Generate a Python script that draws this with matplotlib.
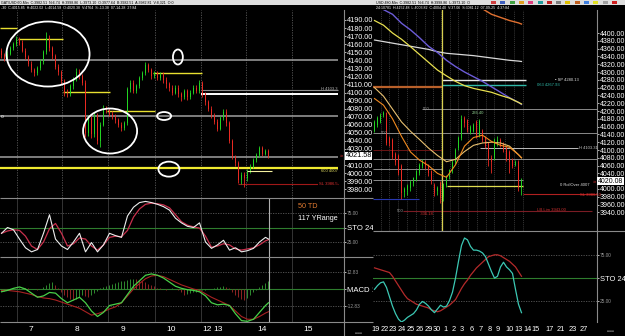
import matplotlib
matplotlib.use("Agg")
import matplotlib.pyplot as plt
from matplotlib.patches import Ellipse, Rectangle

plt.rcParams["font.family"] = ["Liberation Sans", "DejaVu Sans"]

W, H = 625, 336
GREEN = "#22d422"
RED = "#ea2a22"
GRID = "#5a5a5a"
LEVEL = "#a0a0a0"
SEP = "#8a8a8a"

# ---------------- left chart: 60-min candles ----------------
l_open = [4152, 4146, 4142, 4148, 4155, 4160, 4166, 4162, 4152, 4144,
          4136, 4128, 4124, 4130, 4138, 4150, 4168, 4155, 4145, 4132,
          4125, 4114, 4100, 4098, 4108, 4116, 4126, 4120, 4112, 4050,
          4068, 4048, 4072, 4040, 4060, 4080, 4078, 4074, 4070, 4066,
          4060, 4056, 4062, 4104, 4112, 4102, 4108, 4118, 4124, 4134,
          4128, 4120, 4124, 4118, 4122, 4116, 4110, 4106, 4100, 4106,
          4098, 4094, 4102, 4094, 4100, 4106, 4102, 4112, 4098, 4088,
          4080, 4072, 4064, 4055, 4068, 4076, 4062, 4040, 4020, 4012,
          3992, 3998, 3994, 4002, 4008, 4016, 4022, 4031, 4024, 4027]
l_close = [4146, 4142, 4148, 4155, 4160, 4166, 4162, 4152, 4144, 4136,
           4128, 4124, 4130, 4138, 4150, 4168, 4155, 4145, 4132, 4125,
           4114, 4100, 4098, 4108, 4116, 4126, 4120, 4112, 4050, 4068,
           4048, 4072, 4040, 4060, 4080, 4078, 4074, 4070, 4066, 4060,
           4056, 4062, 4104, 4112, 4102, 4108, 4118, 4124, 4134, 4128,
           4120, 4124, 4118, 4122, 4116, 4110, 4106, 4100, 4106, 4098,
           4094, 4102, 4094, 4100, 4106, 4102, 4112, 4098, 4088, 4080,
           4072, 4064, 4055, 4068, 4076, 4062, 4040, 4020, 4012, 3992,
           3998, 3994, 4002, 4008, 4016, 4022, 4031, 4024, 4027, 4021.58]
l_high = [4155, 4149, 4151, 4158, 4163, 4170, 4169, 4165, 4155, 4147,
          4139, 4131, 4133, 4141, 4153, 4175, 4171, 4158, 4148, 4135,
          4128, 4117, 4104, 4111, 4119, 4130, 4129, 4123, 4115, 4072,
          4071, 4076, 4075, 4063, 4084, 4083, 4081, 4077, 4073, 4069,
          4063, 4065, 4107, 4116, 4115, 4111, 4121, 4127, 4138, 4137,
          4131, 4127, 4127, 4125, 4125, 4119, 4113, 4109, 4109, 4109,
          4101, 4105, 4105, 4103, 4109, 4109, 4115, 4114, 4101, 4091,
          4083, 4075, 4067, 4071, 4079, 4079, 4065, 4043, 4023, 4015,
          4001, 4001, 4005, 4011, 4019, 4025, 4034, 4034, 4030, 4030]
l_low = [4143, 4139, 4140, 4146, 4153, 4158, 4159, 4150, 4141, 4133,
         4125, 4121, 4122, 4128, 4136, 4148, 4152, 4142, 4129, 4122,
         4110, 4096, 4095, 4096, 4105, 4114, 4117, 4109, 4045, 4046,
         4044, 4045, 4036, 4032, 4058, 4075, 4071, 4067, 4062, 4057,
         4052, 4054, 4060, 4101, 4099, 4100, 4106, 4116, 4122, 4125,
         4117, 4118, 4115, 4116, 4112, 4106, 4102, 4097, 4098, 4095,
         4090, 4092, 4091, 4092, 4098, 4099, 4100, 4095, 4085, 4077,
         4069, 4061, 4052, 4053, 4066, 4059, 4037, 4017, 4009, 3988,
         3986, 3983, 3990, 4000, 4006, 4014, 4020, 4021, 4022, 4019]

l_day_labels = ["7", "8", "9", "10", "12", "13", "14", "15"]
l_day_pos = [9.8, 25.2, 40.5, 56.5, 68.5, 72.2, 86.8, 102.2]
l_day_sep = [5.2, 20.2, 35.5, 51.2, 66.5, 81.5, 96.8]
l_price_ticks = [4190, 4180, 4170, 4160, 4150, 4140, 4130, 4120, 4110, 4100, 4090, 4080,
                 4070, 4060, 4050, 4040, 4030, 4010, 4000, 3990, 3980]

# horizontal levels drawn on the left chart
l_gray_lv = [4140.4, 4070.9, 4020.0]
l_yellow_lv = [4180.1, 4166.4, 4100.7, 4077.1, 4124.2]
l_yellow_span = [(-0.5, 5.2), (5.5, 20.5), (20.5, 36.2), (35.2, 51.2), (50.5, 66.8)]
l_entry = 4006.4
l_high_lv = 4103.2
l_white_lv = 4098.2
l_roll_lv = 4002.7
l_stop = 3986.5

# oscillators (left): sampled every two bars
l_osc_idx = [0, 2, 4, 6, 8, 10, 12, 14, 16, 18, 20, 22, 24, 26, 28, 30, 32, 34, 36, 38,
             40, 42, 44, 46, 48, 50, 52, 54, 56, 58, 60, 62, 64, 66, 68, 70, 72, 74, 76, 78,
             80, 82, 84, 86, 88, 89]
l_sto_k = [40, 50, 46, 30, 15, 8, 12, 40, 72, 30, 18, 12, 25, 40, 8, 24, 8, 20, 40, 36,
           33, 70, 85, 93, 95, 93, 90, 86, 80, 66, 58, 52, 50, 58, 25, 14, 20, 28, 11, 15,
           8, 10, 14, 25, 33, 30]
l_sto_d = [40, 44, 46, 45, 35, 18, 12, 25, 48, 57, 40, 18, 22, 32, 30, 18, 11, 20, 33, 35,
           34, 45, 68, 82, 90, 92, 91, 89, 84, 72, 60, 54, 51, 49, 35, 16, 18, 22, 20, 13,
           11, 13, 15, 20, 27, 29]
l_macd = [-2, -1, 0.5, 1.5, 0, -3, -6, -5, -2.5, -3, -7, -10, -8, -6, -10, -16, -20, -17, -12, -11,
          -10, -4, 2, 6, 10, 11, 10, 8, 5, 2, 0.5, -0.5, -1, -2, -5, -10, -11.5, -11, -12, -18,
          -23, -23.5, -22, -17, -12, -10]
l_signal = [-1, -1, -1.5, -2, -3, -4, -5.5, -6.5, -7, -8, -9.5, -11, -12.5, -14, -16.5, -19, -18,
            -16.5, -14.5, -13, -10, -5, 0, 4, 7.5, 9.5, 10, 9, 7, 5, 3, 1.5, 0, -1, -3.5, -6, -8,
            -10, -12, -16, -20, -22, -22, -20, -17.5, -16.5]
l_hist = [-1.5, -1.2, -0.9, -0.6, -0.3, 0.2, 0.5, 0.8, 0.6, 0.4,
          0.2, -0.2, -0.5, 0.3, 1.5, 3, 4.5, 5, 3, 0.5,
          -2, -4, -6, -7.5, -8, -7, -5.5, -4, -5, -6,
          -4.5, -3, -1.5, 0.5, 1.5, 2.5, 3, 3.5, 4.5, 5,
          5.5, 6, 6.5, 7, 7.5, 7, 6.5, 6, 5, 4,
          3, 2, 1, 0.5, -0.3, -0.6, 0.3, 0.5, 0.2, -1,
          -2.5, -4, -3.5, -3, -2.5, -2, -1.5, -1, -0.5, -0.3,
          0.3, 0.8, 1.2, 1.8, 2.2, 1.5, 0.5, -2, -4, -6,
          -7.5, -8, -6.5, -4.5, -2.5, -0.5, 1.5, 3, 4.5, 6]

# ---------------- right chart: 480-min candles ----------------
r_open = [4150, 4165, 4172, 4190, 4194, 4130, 4125, 4090, 4085, 4060,
          3992, 3998, 4003, 4015, 4025, 4040, 4060, 4068, 4060, 4045,
          4010, 3995, 4015, 3980, 4010, 4030, 4045, 4070, 4105, 4130,
          4181, 4176, 4145, 4150, 4172, 4138, 4150, 4130, 4117, 4080,
          4079, 4115, 4125, 4115, 4105, 4095, 4075, 4062, 4070, 4003]
r_close = [4172, 4182, 4190, 4194, 4117, 4117, 4083, 4070, 4040, 3990,
           4000, 4008, 4018, 4028, 4045, 4062, 4070, 4058, 4040, 4020,
           3990, 4003, 3978, 4012, 4030, 4048, 4070, 4100, 4130, 4180,
           4168, 4151, 4160, 4165, 4138, 4175, 4125, 4110, 4080, 4070,
           4126, 4125, 4112, 4100, 4078, 4070, 4060, 4070, 4003, 4020.08]
r_high = [4176, 4186, 4195, 4199, 4198, 4135, 4130, 4095, 4090, 4065,
          4006, 4012, 4022, 4032, 4050, 4066, 4076, 4074, 4064, 4050,
          4015, 4008, 4020, 4016, 4035, 4052, 4075, 4105, 4135, 4190,
          4186, 4180, 4165, 4170, 4176, 4180, 4155, 4135, 4120, 4088,
          4130, 4135, 4130, 4120, 4110, 4100, 4080, 4075, 4074, 4027]
r_low = [4145, 4160, 4168, 4185, 4112, 4110, 4078, 4062, 4035, 3975,
         3980, 3985, 3995, 4008, 4020, 4035, 4055, 4052, 4034, 4012,
         3982, 3985, 3965, 3970, 4005, 4025, 4040, 4065, 4100, 4125,
         4160, 4145, 4140, 4145, 4132, 4133, 4120, 4105, 4060, 4040,
         4075, 4110, 4108, 4095, 4072, 4040, 4055, 4058, 3995, 3985]

r_ma_idx = [0, 3, 6, 9, 12, 15, 18, 21, 24, 27, 30, 33, 36, 39, 42, 45, 48, 49]
r_ma_fast = [4232, 4215, 4180, 4135, 4095, 4074, 4060, 4040, 4030, 4062, 4110, 4132, 4138, 4122,
             4112, 4107, 4088, 4080]
r_ma_mid = [4260, 4238, 4205, 4172, 4148, 4127, 4105, 4086, 4070, 4076, 4096, 4112, 4118, 4120,
            4118, 4110, 4088, 4080]
r_ma_long = [4432, 4420, 4400, 4384, 4365, 4345, 4325, 4305, 4290, 4276, 4265, 4258, 4253, 4248,
             4240, 4233, 4222, 4218]
r_ma_blue = [4470, 4460, 4448, 4425, 4408, 4388, 4366, 4350, 4330, 4314, 4300, 4288, 4276, 4262,
             4248, 4234, 4222, 4217]
r_ma_white = [4382, 4378, 4374, 4370, 4366, 4362, 4358, 4352, 4348, 4346, 4344, 4342, 4339, 4336,
              4333, 4330, 4328, 4327]
r_ma_top_idx = [36, 39, 42, 45, 48, 49]
r_ma_top = [4462, 4448, 4440, 4432, 4426, 4423]

r_sto_k = [38, 42, 45, 46, 40, 30, 20, 12, 6, 3, 5, 8, 10, 12, 16, 22, 25, 23, 20, 16,
           13, 17, 21, 19, 20, 26, 35, 50, 68, 85, 93, 91, 84, 80, 80, 79, 77, 73, 65, 57,
           50, 52, 62, 67, 62, 59, 55, 38, 22, 13]
r_sto_d = [61, 60, 59, 58, 57, 56, 52, 47, 42, 37, 32, 28, 26, 24, 22, 21, 20, 19, 18, 16,
           15, 14, 15, 17, 19, 21, 24, 27, 33, 39, 44, 48, 53, 57, 61, 64, 67, 70, 73, 74,
           75, 75, 74, 72, 70, 68, 65, 62, 57, 52]

r_day_labels = ["19", "22", "23", "24", "25", "26", "29", "30", "1", "2", "3", "6", "7", "8",
                "9", "10", "13", "14", "15", "17", "21", "23", "27"]
r_day_pos = [0.5, 3.5, 6.2, 9.2, 12.2, 15.2, 18.2, 20.8, 23.5, 26.5, 29.2, 32.5, 35.5, 38.5,
             41.2, 44.9, 47.9, 50.9, 53.6, 58.2, 62.2, 66.2, 69.8]
r_price_ticks = [4400, 4380, 4360, 4340, 4320, 4300, 4280, 4260, 4240, 4220, 4200, 4180, 4160,
                 4140, 4120, 4100, 4080, 4060, 4040, 4000, 3980, 3960, 3940]
r_cursor = 22.5

r_gray_lv = [4205, 4144, 4077, 4023, 4051]
r_gray_span = [(15.8, 74.2), (-0.5, 74.2), (-0.5, 74.2), (-0.5, 49.5), (-0.5, 22.5)]
r_sp_lv = 4280.13
r_t3_lv = 4267.93
r_brown_lv = 4261.5
r_h_lv = 4104.0
r_dark_lv = 4100.0
r_roll_lv = 4008.0
r_stop = 3986.5
r_blue_lv = 3974.0
r_lim_lv = 3943.0

fig = plt.figure(figsize=(W / 100, H / 100), dpi=100, facecolor="black")


def panel(x0, y0, x1, y1, size=5.2):
    ax = fig.add_axes([x0 / W, 1 - y1 / H, (x1 - x0) / W, (y1 - y0) / H])
    ax.set_facecolor("black")
    for s in ax.spines.values():
        s.set_visible(False)
    ax.spines["right"].set_visible(True)
    ax.spines["right"].set_color(SEP)
    ax.spines["right"].set_linewidth(0.8)
    ax.yaxis.tick_right()
    ax.tick_params(axis="x", length=0, labelbottom=False)
    ax.tick_params(axis="y", colors="white", length=1.5, width=0.5, pad=0.6, labelsize=size)
    return ax


def candles(ax, o, h, l, c):
    x = list(range(len(c)))
    cols = [GREEN if cc >= oo else RED for oo, cc in zip(o, c)]
    ax.vlines(x, l, h, colors=cols, lw=0.6, zorder=3)
    ax.bar(x, [max(abs(cc - oo), 0.8) for oo, cc in zip(o, c)],
           bottom=[min(oo, cc) for oo, cc in zip(o, c)],
           width=0.62, color=cols, lw=0, zorder=4)


def small_labels(ax, big, size):
    for t in ax.get_yticklabels():
        if t.get_text() == big:
            t.set_fontsize(size)
            t.set_color("white")
        else:
            t.set_fontsize(3.4)
            t.set_color("#9a9a9a")


# ---- left main ----
ax_l = panel(0, 10, 344, 198)
ax_l.set_xlim(-0.5, 114.17)
ax_l.set_ylim(3969.2, 4202.4)
ax_l.set_yticks(l_price_ticks)
ax_l.set_yticklabels([f"{v:.2f}" for v in l_price_ticks])
ax_l.vlines(l_day_sep, 3969.2, 4202.4, colors=GRID, lw=0.6, linestyles=(0, (1.5, 1.5)), zorder=1)
ax_l.hlines(l_gray_lv, -0.5, 112.2, colors=LEVEL, lw=1.1, zorder=2)
for lv, (a, b) in zip(l_yellow_lv, l_yellow_span):
    ax_l.hlines(lv, a, b, colors="#e8e030", lw=1.0, zorder=2)
ax_l.hlines(l_high_lv, 66.5, 112.2, colors="#8c8c8c", lw=0.8, zorder=2)
ax_l.hlines(l_white_lv, 66.5, 112.2, colors="white", lw=1.4, zorder=2)
ax_l.hlines(l_entry, -0.5, 112.2, colors="#f0ea30", lw=1.6, zorder=2)
ax_l.hlines(l_roll_lv, 81.8, 90.2, colors="#f4f0a0", lw=0.8, zorder=5)
ax_l.hlines(l_stop, 78.8, 112.2, colors="#a01818", lw=0.8, zorder=2)
candles(ax_l, l_open, l_high, l_low, l_close)
ax_l.text(112, l_high_lv + 1, "H 4103.3", color="#bbbbbb", fontsize=3, ha="right", va="center", zorder=6)
ax_l.text(112, l_entry - 4, "600 4007", color="#e0dc60", fontsize=3, ha="right", va="center", zorder=6)
ax_l.text(112, l_stop, "SL 3986.5", color="#e03030", fontsize=3, ha="right", va="center", zorder=6,
          bbox=dict(fc="black", ec="none", pad=0.3))
ax_l.text(0.2, l_gray_lv[1], "o", color="white", fontsize=3.5, ha="center", va="center", zorder=6)
for cx, cy, ew, eh in [(15.5, 4147.8, 27.7, 80.6), (36.2, 4052.3, 18.0, 55.8),
                       (58.8, 4144.1, 3.3, 18.6), (54.2, 4070.9, 4.7, 9.9),
                       (55.8, 4005.0, 7.0, 18.6)]:
    ax_l.add_patch(Ellipse((cx, cy), ew, eh, fill=False, ec="white", lw=1.3, zorder=7))
ax_l.text(1.004, l_close[-1], "4021.58", transform=ax_l.get_yaxis_transform(), color="black",
          fontsize=5.2, ha="left", va="center", zorder=8, clip_on=False,
          bbox=dict(fc="white", ec="none", pad=0.4))
ax_l.text(0.993, l_close[-1], "»", transform=ax_l.get_yaxis_transform(), color="#e03030",
          fontsize=4, ha="center", va="center", zorder=8)

# ---- left stochastic ----
ax_ls = panel(0, 198, 344, 257)
ax_ls.set_xlim(-0.5, 114.17)
ax_ls.set_ylim(-0.9, 100.9)
ax_ls.set_yticks([25, 50, 75])
ax_ls.set_yticklabels(["25.00", "STO 24", "75.00"])
small_labels(ax_ls, "STO 24", 5.6)
ax_ls.vlines(l_day_sep, -0.9, 100.9, colors="#3c3c3c", lw=0.6, zorder=1)
ax_ls.hlines([25, 75], -0.5, 114.17, colors=GRID, lw=0.6, linestyles=(0, (1.5, 1.5)))
ax_ls.axhline(50, color="#2e7d2e", lw=0.8)
ax_ls.axvline(89.2, color="#b0b0b0", lw=0.8)
ax_ls.plot(l_osc_idx, l_sto_d, color="#c8304c", lw=0.9)
ax_ls.plot(l_osc_idx, l_sto_k, color="#eeeeee", lw=0.8)

# ---- left MACD ----
ax_lm = panel(0, 257, 344, 322)
ax_lm.set_xlim(-0.5, 114.17)
ax_lm.set_ylim(-24, 23.3)
ax_lm.set_yticks([-12.5, 0, 12.5])
ax_lm.set_yticklabels(["-12.83", "MACD 12", "12.83"])
small_labels(ax_lm, "MACD 12", 5.6)
ax_lm.vlines(l_day_sep, -24, 23.3, colors="#3c3c3c", lw=0.6, zorder=1)
ax_lm.hlines([-12.5, 12.5], -0.5, 114.17, colors=GRID, lw=0.6, linestyles=(0, (1.5, 1.5)))
ax_lm.axhline(0, color="#2e7d2e", lw=0.8)
ax_lm.axvline(89.2, color="#b0b0b0", lw=0.8)
h_cols = ["#2f8a2f" if i == 0 or v >= l_hist[i - 1] else "#8e2424" for i, v in enumerate(l_hist)]
ax_lm.vlines(range(len(l_hist)), 0, l_hist, colors=h_cols, lw=0.7, zorder=2)
ax_lm.plot(l_osc_idx, l_signal, color="#a82222", lw=0.8, zorder=3)
ax_lm.plot(l_osc_idx, l_macd, color="#48d048", lw=0.9, zorder=4)
ax_lm.set_xticks(l_day_pos)
ax_lm.set_xticklabels(l_day_labels)
ax_lm.tick_params(axis="x", labelbottom=True, colors="white", labelsize=6, pad=3, length=0)

# ---- right main ----
ax_r = panel(373, 10, 597, 231, size=5.0)
ax_r.set_xlim(-0.5, 74.17)
ax_r.set_ylim(3892.3, 4459)
ax_r.set_yticks(r_price_ticks)
ax_r.set_yticklabels([f"{v:.2f}" for v in r_price_ticks])
ax_r.vlines([p - 1.3 for p in r_day_pos[1:18]], 3892.3, 4459, colors="#4a4a4a", lw=0.5,
            linestyles=(0, (1.5, 1.5)), zorder=1)
for lv, (a, b) in zip(r_gray_lv, r_gray_span):
    ax_r.hlines(lv, a, b, colors="#8a8a8a", lw=0.7, zorder=2)
ax_r.hlines(r_sp_lv, r_cursor, 50.5, colors="#e8e8e8", lw=1.0, zorder=2)
ax_r.hlines(r_t3_lv, r_cursor, 50.5, colors="#30b8a8", lw=1.0, zorder=2)
ax_r.hlines(r_brown_lv, -0.5, r_cursor, colors="#b8602a", lw=1.6, zorder=2)
ax_r.hlines(r_h_lv, 35.2, 67.8, colors="#bdbdbd", lw=0.7, zorder=2)
ax_r.hlines(r_dark_lv, -0.5, r_cursor, colors="#6a1414", lw=0.7, zorder=2)
ax_r.hlines(r_roll_lv, 24.2, 49.5, colors="#e0dc50", lw=0.9, zorder=2)
ax_r.hlines(r_stop, 49.5, 74.2, colors="#b02020", lw=0.8, zorder=2)
ax_r.hlines(r_blue_lv, -0.5, 15.0, colors="#2838b0", lw=0.8, zorder=2)
ax_r.hlines(r_lim_lv, 9.5, 72.5, colors="#7a1c24", lw=0.8, zorder=2)
ax_r.axvline(r_cursor, color="#d8d050", lw=0.9, zorder=2)
ax_r.plot(r_ma_idx, r_ma_white, color="#d8d8d8", lw=0.9, zorder=3)
ax_r.plot(r_ma_idx, r_ma_blue, color="#6c5cd8", lw=1.0, zorder=3)
ax_r.plot(r_ma_idx, r_ma_long, color="#e8e050", lw=0.9, zorder=3)
ax_r.plot(r_ma_top_idx, r_ma_top, color="#e07030", lw=1.0, zorder=3)
candles(ax_r, r_open, r_high, r_low, r_close)
ax_r.plot(r_ma_idx, r_ma_mid, color="#e8c070", lw=0.8, zorder=5)
ax_r.plot(r_ma_idx, r_ma_fast, color="#f08a20", lw=0.8, zorder=5)
for tx, ty, s, col in [(60.2, r_sp_lv, "\u25aa SP 4280.13", "#e0e0e0"),
                       (54.2, r_t3_lv - 2, "063 4267.93", "#30b8a8"),
                       (16.2, 4205, "500", "#a0a0a0"),
                       (2.2, 4144, "500", "#a0a0a0"),
                       (7.5, r_lim_lv, "500", "#a0a0a0"),
                       (15.2, r_lim_lv - 8, "-336.18", "#d03030"),
                       (54.2, r_lim_lv + 2, "LB.Lim 3943.00", "#d03030"),
                       (68.2, r_h_lv, "H 4103.31", "#c8c8c8"),
                       (61.8, r_roll_lv + 3, "0 RollOver 4007", "#e0e0e0"),
                       (68.5, r_stop - 2, "SL 3986.50", "#e03030"),
                       (32.5, 4196, "236.40", "#8fcf8f")]:
    ax_r.text(tx, ty, s, color=col, fontsize=3, ha="left", va="center", zorder=6)
ax_r.text(1.004, r_close[-1], "4020.08", transform=ax_r.get_yaxis_transform(), color="black",
          fontsize=5.0, ha="left", va="center", zorder=8, clip_on=False,
          bbox=dict(fc="white", ec="none", pad=0.4))
ax_r.text(0.99, r_close[-1], "»", transform=ax_r.get_yaxis_transform(), color="#e03030",
          fontsize=4, ha="center", va="center", zorder=8)

# ---- right stochastic ----
ax_rs = panel(373, 231, 597, 322)
ax_rs.set_xlim(-0.5, 74.17)
ax_rs.set_ylim(3, 100.5)
ax_rs.set_yticks([25, 50, 75])
ax_rs.set_yticklabels(["25.00", "STO 24", "75.00"])
small_labels(ax_rs, "STO 24", 5.4)
ax_rs.hlines([25, 75], -0.5, 74.17, colors=GRID, lw=0.6, linestyles=(0, (1.5, 1.5)))
ax_rs.axhline(50, color="#2e7d2e", lw=0.8)
ax_rs.plot(range(len(r_sto_d)), r_sto_d, color="#b42a2a", lw=0.9)
ax_rs.plot(range(len(r_sto_k)), r_sto_k, color="#3cc8b4", lw=0.9)
ax_rs.set_xticks(r_day_pos)
ax_rs.set_xticklabels(r_day_labels)
ax_rs.tick_params(axis="x", labelbottom=True, colors="white", labelsize=5.3, pad=3, length=0)

# ---- frame, header and notes (pixel overlay) ----
ov = fig.add_axes([0, 0, 1, 1], zorder=10)
ov.set_xlim(0, W)
ov.set_ylim(H, 0)
ov.axis("off")
ov.patch.set_alpha(0)
ov.hlines([198, 257, 322], 0, 373, colors=SEP, lw=0.8)
ov.hlines(231, 373, 625, colors=SEP, lw=0.8)
ov.vlines(344, 322, 336, colors=SEP, lw=0.8)
ov.add_patch(Rectangle((0, 0), 625, 4.8, fc="#dedede", ec="none"))
ov.text(1, 2.5, "GAT/USD 60-Min  C:3982.51  N:6.74  H:3998.86  L:3973.10  O:3977.64  "
        "B:3982.51  A:3982.81  V:8,321  O:0", color="black", fontsize=2.6, va="center")
ov.text(376, 2.5, "USD 480-Min  C:3982.51  N:6.74  H:3998.86  L:3973.10  O",
        color="black", fontsize=2.6, va="center")
ov.text(1, 7.6, "-30  C:4015.85  H:4022.02  L:4014.58  O:4020.38  V:4764  S:-13.38  07-14-28  27:84",
        color="white", fontsize=2.6, va="center")
ov.text(376, 7.6, "24:10781  H:4152.48  L:4003.82  C:4004.40  V:37.06  S:3081.12  07-09-25  4:37:84",
        color="white", fontsize=2.6, va="center")
icon_cols = ["#d04040", "#4060c0", "#40a040", "#e0a020", "#e04080", "#20a0a0", "#c02020",
             "#808080", "#e0c000", "#c06020", "#4080e0", "#e0e020", "#a0a0a0", "#d02020"]
for k, col in enumerate(icon_cols):
    ov.add_patch(Rectangle((491 + k * 9.3, 0.6), 5, 3.6, fc=col, ec="none"))
ov.text(298, 207, "50 TD", color="#e07a30", fontsize=5.2, va="center")
ov.text(298, 219, "117 YRange", color="white", fontsize=5.2, va="center")
ov.text(355, 333, "\u25ab\u25ab\u25ab\u25ab", color="#bbbbbb", fontsize=4, va="center")
ov.text(607, 331, "\u25ab\u25ab\u25ab\u25ab", color="#bbbbbb", fontsize=4, va="center")

fig.savefig("out.png", dpi=100, facecolor="black")
